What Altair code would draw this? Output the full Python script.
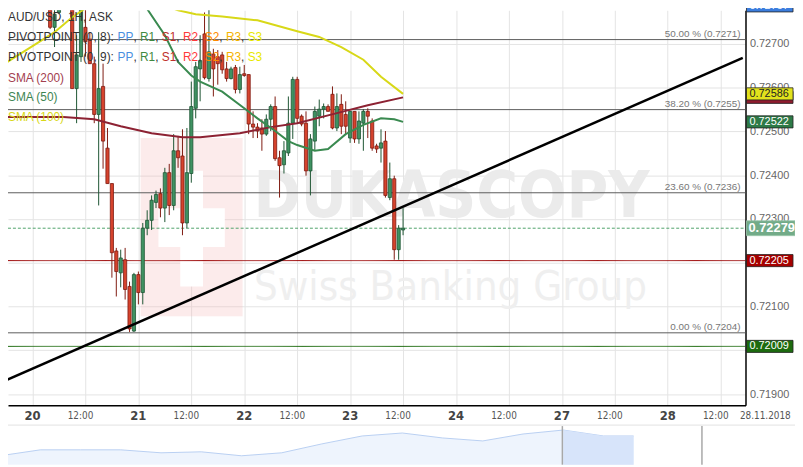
import altair as alt
import pandas as pd

# ---------------- data (hour index: 0 = 20 Nov 00:00) ----------------
first_hour = 4
opens = [0.72840, 0.72738, 0.72772, 0.72806, 0.72829, 0.72852, 0.72598, 0.72671, 0.72738, 0.72711,
         0.72655, 0.72539, 0.72603, 0.72462, 0.72381, 0.72227, 0.72177, 0.72207, 0.72146, 0.72044,
         0.72173, 0.72132, 0.72279, 0.72297, 0.72338, 0.72358, 0.72325, 0.72406, 0.72331, 0.72456,
         0.72444, 0.72291, 0.72404, 0.72553, 0.72643, 0.72723, 0.72621, 0.72677, 0.72671, 0.72675,
         0.72643, 0.72621, 0.72646, 0.72596, 0.72632, 0.72630, 0.72517, 0.72510, 0.72508, 0.72494,
         0.72528, 0.72557, 0.72440, 0.72424, 0.72451, 0.72519, 0.72619, 0.72535, 0.72519, 0.72410,
         0.72478, 0.72535, 0.72551, 0.72557, 0.72585, 0.72508, 0.72562, 0.72539, 0.72485, 0.72546,
         0.72483, 0.72519, 0.72546, 0.72524, 0.72467, 0.72462, 0.72478, 0.72349, 0.72392, 0.72230,
         0.72275]
highs = [0.72852, 0.72784, 0.72818, 0.72840, 0.72875, 0.72863, 0.72720, 0.72795, 0.72795, 0.72727,
         0.72671, 0.72727, 0.72655, 0.72508, 0.72381, 0.72234, 0.72230, 0.72234, 0.72157, 0.72177,
         0.72180, 0.72291, 0.72320, 0.72354, 0.72365, 0.72370, 0.72417, 0.72426, 0.72494, 0.72490,
         0.72505, 0.72508, 0.72614, 0.72659, 0.72720, 0.72772, 0.72779, 0.72689, 0.72686, 0.72682,
         0.72659, 0.72648, 0.72652, 0.72648, 0.72652, 0.72630, 0.72546, 0.72519, 0.72528, 0.72539,
         0.72562, 0.72580, 0.72456, 0.72478, 0.72580, 0.72625, 0.72625, 0.72539, 0.72546, 0.72494,
         0.72557, 0.72573, 0.72564, 0.72562, 0.72603, 0.72587, 0.72585, 0.72569, 0.72546, 0.72546,
         0.72546, 0.72551, 0.72553, 0.72530, 0.72472, 0.72505, 0.72501, 0.72429, 0.72399, 0.72286,
         0.72325]
lows = [0.72734, 0.72693, 0.72768, 0.72788, 0.72806, 0.72598, 0.72519, 0.72659, 0.72671, 0.72655,
        0.72519, 0.72331, 0.72415, 0.72381, 0.72166, 0.72123, 0.72144, 0.72116, 0.72042, 0.72042,
        0.72105, 0.72105, 0.72263, 0.72275, 0.72325, 0.72304, 0.72293, 0.72309, 0.72320, 0.72417,
        0.72263, 0.72279, 0.72383, 0.72530, 0.72569, 0.72619, 0.72614, 0.72580, 0.72607, 0.72632,
        0.72614, 0.72619, 0.72587, 0.72587, 0.72625, 0.72494, 0.72485, 0.72485, 0.72456, 0.72490,
        0.72501, 0.72433, 0.72349, 0.72404, 0.72444, 0.72483, 0.72517, 0.72512, 0.72399, 0.72354,
        0.72456, 0.72512, 0.72530, 0.72546, 0.72505, 0.72501, 0.72494, 0.72494, 0.72474, 0.72474,
        0.72472, 0.72456, 0.72485, 0.72456, 0.72451, 0.72429, 0.72349, 0.72343, 0.72207, 0.72207,
        0.72263]
closes = [0.72738, 0.72768, 0.72806, 0.72829, 0.72863, 0.72598, 0.72675, 0.72788, 0.72705, 0.72655,
          0.72539, 0.72598, 0.72478, 0.72381, 0.72223, 0.72180, 0.72211, 0.72139, 0.72049, 0.72173,
          0.72132, 0.72279, 0.72297, 0.72343, 0.72356, 0.72325, 0.72406, 0.72331, 0.72456, 0.72440,
          0.72291, 0.72406, 0.72557, 0.72648, 0.72662, 0.72623, 0.72682, 0.72643, 0.72655, 0.72641,
          0.72621, 0.72643, 0.72596, 0.72630, 0.72628, 0.72517, 0.72510, 0.72501, 0.72494, 0.72528,
          0.72557, 0.72438, 0.72422, 0.72456, 0.72519, 0.72619, 0.72530, 0.72517, 0.72410, 0.72483,
          0.72546, 0.72551, 0.72557, 0.72546, 0.72508, 0.72557, 0.72512, 0.72512, 0.72546, 0.72483,
          0.72524, 0.72546, 0.72535, 0.72462, 0.72460, 0.72474, 0.72354, 0.72392, 0.72230, 0.72279,
          0.72279]

sma200_t = [-6, 7, 14, 20, 27, 34, 38, 47, 54, 60, 69, 76, 84]
sma200_v = [0.72533, 0.72533, 0.72528, 0.72512, 0.72496, 0.72487, 0.72487, 0.72496, 0.72510,
            0.72519, 0.72542, 0.72560, 0.72578]
sma50_t = [20, 23, 25, 30, 33, 36, 38, 43, 48, 51, 55, 58, 60, 64, 67, 71, 75, 79, 82, 84]
sma50_v = [0.72885, 0.72840, 0.72795, 0.72720, 0.72659, 0.72628, 0.72614, 0.72591, 0.72553, 0.72530,
           0.72501, 0.72478, 0.72469, 0.72456, 0.72460, 0.72494, 0.72515, 0.72530, 0.72528, 0.72522]
sma100_t = [-6, 0, 5, 9, 14, 20, 28, 33, 37, 43, 51, 60, 65, 70, 75, 79, 84]
sma100_v = [0.72657, 0.72695, 0.72727, 0.72761, 0.72795, 0.72822, 0.72795, 0.72777, 0.72768, 0.72763,
            0.72754, 0.72729, 0.72716, 0.72693, 0.72664, 0.72625, 0.72586]

trend_t = [-7, 161]
trend_v = [0.71927, 0.72668]

fib_levels = [0.7271, 0.7255, 0.7236, 0.7204]
fib_pcts = ["50.00 %", "38.20 %", "23.60 %", "0.00 %"]

last_price = 0.72279
support_red = 0.72205
support_green = 0.72009

tag_values = [0.72787, 0.72578, 0.72586, 0.72522, 0.72205, 0.72009]
tag_fills = ["#3b7ddd", "#8e1c2e", "#e2e21c", "#2d7a47", "#a50000", "#1d6b0f"]
tag_text_colors = ["white", "white", "#222222", "white", "white", "white"]

y_ticks = [0.719, 0.720, 0.721, 0.722, 0.723, 0.724, 0.725, 0.726, 0.727]
hidden_y_labels = ["0.72000", "0.72200"]
grid_hours = list(range(0, 157, 12))
day_hours = [0, 24, 48, 72, 96, 120, 144]
day_labels = ["20", "21", "22", "23", "24", "27", "28"]
half_hours = list(range(12, 157, 24))
date_label = "28.11.2018"

nav_idx = [0, 1, 2, 3, 4, 5, 6, 7, 8, 9, 10, 11, 12, 13, 14, 15, 15.75]
nav_vals = [9, 15, 15, 15, 12, 13, 9, 12, 21, 29, 32, 27, 24, 31, 35, 29, 29]
nav_window_start = 14

# ---------------- frames ----------------
n = len(opens)
candles = pd.DataFrame({"t": list(range(first_hour, first_hour + n)), "open": opens,
                        "high": highs, "low": lows, "close": closes})
candles["dir"] = ["up" if c >= o else "down" for o, c in zip(opens, closes)]

FONT = "Liberation Sans, Arial, sans-serif"
NARROW = "Liberation Sans Narrow, Arial Narrow, DejaVu Sans Condensed, sans-serif"

W, H = 745, 399
xs = alt.Scale(domain=[-4.428, 160.5], nice=False, zero=False)
ys = alt.Scale(domain=[0.718744, 0.727769], nice=False, zero=False)
hide_expr = " || ".join([f"datum.label == '{h}'" for h in hidden_y_labels])
x_axis = alt.Axis(values=grid_hours, labels=False, ticks=False, grid=True, gridColor="#e4e4e4",
                  domainColor="#000000", domainWidth=1.5, title=None, zindex=0)
y_axis = alt.Axis(orient="right", values=y_ticks, format=".5f", ticks=False, grid=True,
                  gridColor="#e4e4e4", domainColor="#000000", domainWidth=1.5, labelColor="#666666",
                  labelFontSize=11, labelFont=FONT, labelPadding=4, title=None, zindex=0,
                  labelExpr=f"({hide_expr}) ? '' : datum.label")


def X(f):
    return alt.X(f, type="quantitative", scale=xs, axis=x_axis)


def Y(f):
    return alt.Y(f, type="quantitative", scale=ys, axis=y_axis)


one = pd.DataFrame({"_": [0]})
layers = []

# watermark logo (decoration)
layers.append(alt.Chart(one).mark_rect(color="#f3b8b8", opacity=0.28).encode(
    x=alt.value(134), x2=alt.value(237), y=alt.value(129), y2=alt.value(309)))
layers.append(alt.Chart(one).mark_rect(color="white").encode(
    x=alt.value(152), x2=alt.value(219), y=alt.value(200), y2=alt.value(239)))
layers.append(alt.Chart(one).mark_rect(color="white").encode(
    x=alt.value(174), x2=alt.value(197), y=alt.value(162), y2=alt.value(279)))
layers.append(alt.Chart(one).mark_text(text="DUKASCOPY", font=NARROW, fontSize=64, fontWeight="bold",
                                       color="#ebebeb", align="center", baseline="middle").encode(
    x=alt.value(448), y=alt.value(190)))
layers.append(alt.Chart(one).mark_text(text="Swiss Banking Group", font=NARROW, fontSize=42,
                                       color="#efefef", align="center", baseline="middle").encode(
    x=alt.value(447), y=alt.value(280)))

# fibonacci levels
fib = pd.DataFrame({"price": fib_levels,
                    "label": [f"{p} ({v:.4f})" for p, v in zip(fib_pcts, fib_levels)]})
layers.append(alt.Chart(fib).mark_rule(color="#5c5c5c", strokeWidth=1).encode(
    y=Y("price"), x=alt.value(0), x2=alt.value(W)))
layers.append(alt.Chart(fib).mark_text(align="right", baseline="middle", dy=-6, fontSize=10,
                                       color="#777777", font=FONT).encode(
    y=Y("price"), x=alt.value(740), text="label:N"))

# horizontal levels
for val, col, dash in [(support_red, "#9a0000", [1, 0]), (support_green, "#1d6b0f", [1, 0]),
                       (last_price, "#4fa36a", [3, 2])]:
    layers.append(alt.Chart(pd.DataFrame({"price": [val]})).mark_rule(
        color=col, strokeWidth=1, strokeDash=dash).encode(y=Y("price"), x=alt.value(0), x2=alt.value(W)))

# candles
dark = alt.Scale(domain=["up", "down"], range=["#1d5533", "#7e1a10"])
bright = alt.Scale(domain=["up", "down"], range=["#3f9262", "#d6432d"])
layers.append(alt.Chart(candles).mark_rule(strokeWidth=1, clip=True).encode(
    x=X("t"), y=Y("low"), y2=alt.Y2("high"), stroke=alt.Stroke("dir:N", scale=dark, legend=None)))
layers.append(alt.Chart(candles).mark_bar(size=3.2, strokeWidth=0.8, clip=True).encode(
    x=X("t"), y=Y("open"), y2=alt.Y2("close"),
    fill=alt.Fill("dir:N", scale=bright, legend=None),
    stroke=alt.Stroke("dir:N", scale=dark, legend=None)))

# moving averages
for ts, vs, col in [(sma200_t, sma200_v, "#8d2233"), (sma50_t, sma50_v, "#3a8a50"),
                    (sma100_t, sma100_v, "#d8d818")]:
    layers.append(alt.Chart(pd.DataFrame({"t": ts, "v": vs})).mark_line(
        color=col, strokeWidth=2, clip=True).encode(x=X("t"), y=Y("v")))

# trend line
layers.append(alt.Chart(pd.DataFrame({"t": trend_t, "v": trend_v})).mark_line(
    color="#000000", strokeWidth=2.5, clip=True).encode(x=X("t"), y=Y("v")))

# legend text (top-left)
AW = {"P": .667, "I": .278, "V": .667, "O": .778, "T": .611, "N": .722, " ": .278, "(": .333,
      ")": .333, ",": .278, ":": .278, "R": .722, "S": .667}


def tw(s, size=12):
    return sum(AW.get(c, .556) for c in s) * size


layers.append(alt.Chart(one).mark_text(text="AUD/USD, 1H, ASK", fontSize=12, color="#333333",
                                       align="left", baseline="middle", font=FONT).encode(
    x=alt.value(0), y=alt.value(7)))
piv_cols = ["#4a8fe0", "#3f8a3f", "#c0302a", "#ff3a3a", "#ff8a00", "#f5b400", "#e8e800"]
piv_names = ["PP", "R1", "S1", "R2", "S2", "R3", "S3"]
for head, yy in [("PIVOTPOINT (0, 8): ", 27), ("PIVOTPOINT (0, 9): ", 47)]:
    pieces = [(head, "#333333")]
    for k, (nm, cc) in enumerate(zip(piv_names, piv_cols)):
        pieces.append((nm, cc))
        if k < len(piv_names) - 1:
            pieces.append((", ", "#333333"))
    xx = 0.0
    for txt, cc in pieces:
        layers.append(alt.Chart(one).mark_text(text=txt, fontSize=12, color=cc, align="left",
                                               baseline="middle", font=FONT).encode(
            x=alt.value(xx), y=alt.value(yy)))
        xx += tw(txt)
for txt, cc, yy in [("SMA (200)", "#a3404f", 68), ("SMA (50)", "#3d8552", 88), ("SMA (100)", "#d8d818", 108)]:
    layers.append(alt.Chart(one).mark_text(text=txt, fontSize=12, color=cc, align="left",
                                           baseline="middle", font=FONT).encode(
        x=alt.value(0), y=alt.value(yy)))

# price tags on the axis
half = 0.000138
for val, fc, tc in zip(tag_values, tag_fills, tag_text_colors):
    d = pd.DataFrame({"price": [val], "top": [val + half], "bot": [val - half], "label": [f"{val:.5f}"]})
    layers.append(alt.Chart(d).mark_rect(fill=fc, stroke="#222222", strokeWidth=0.8).encode(
        x=alt.value(746), x2=alt.value(793), y=Y("top"), y2=alt.Y2("bot")))
    layers.append(alt.Chart(d).mark_text(align="left", baseline="middle", fontSize=11, color=tc,
                                         font=FONT).encode(
        x=alt.value(749), y=Y("price"), text="label:N"))
bigh = 0.00017
d = pd.DataFrame({"price": [last_price], "top": [last_price + bigh], "bot": [last_price - bigh],
                  "label": [f"{last_price:.5f}"]})
layers.append(alt.Chart(d).mark_rect(fill="#72ab88", stroke="#9cc7ab", strokeWidth=0.8).encode(
    x=alt.value(746), x2=alt.value(795), y=Y("top"), y2=alt.Y2("bot")))
layers.append(alt.Chart(d).mark_text(align="left", baseline="middle", fontSize=13, fontWeight="bold",
                                     color="white", font=FONT).encode(
    x=alt.value(748), y=Y("price"), text="label:N"))

# x labels
layers.append(alt.Chart(pd.DataFrame({"t": day_hours, "label": day_labels})).mark_text(
    fontSize=13, color="#444444", font=NARROW, fontWeight="bold", baseline="middle").encode(
    x=X("t"), y=alt.value(410), text="label:N"))
layers.append(alt.Chart(pd.DataFrame({"t": half_hours})).mark_text(
    text="12:00", fontSize=10, color="#555555", font=NARROW, baseline="middle", dx=-5).encode(
    x=X("t"), y=alt.value(410)))
layers.append(alt.Chart(one).mark_text(text=date_label, fontSize=10, color="#555555", font=NARROW,
                                       baseline="middle").encode(x=alt.value(765), y=alt.value(410)))

main = alt.layer(*layers)

# navigator
nav = pd.DataFrame({"i": nav_idx, "v": nav_vals})
nx = alt.Scale(domain=[0, 15.75], range=[-8, 632], nice=False, zero=False)
ny = alt.Scale(domain=[0, 40], range=[459, 419], nice=False)
nav_layers = [
    alt.Chart(one).mark_rule(color="#e2e2e2", strokeWidth=1).encode(
        x=alt.value(0), x2=alt.value(795), y=alt.value(419)),
    alt.Chart(nav).mark_area(color="#e7effc", line={"color": "#b9cff2", "strokeWidth": 1}).encode(
        x=alt.X("i:Q", scale=nx, axis=None), y=alt.Y("v:Q", scale=ny, axis=None)),
    alt.Chart(nav[nav["i"] >= nav_window_start]).mark_area(color="#d7e4fa").encode(
        x=alt.X("i:Q", scale=nx, axis=None), y=alt.Y("v:Q", scale=ny, axis=None)),
    alt.Chart(one).mark_rule(color="#a8a8a8", strokeWidth=1.5).encode(
        x=alt.value(560), y=alt.value(420), y2=alt.value(459)),
    alt.Chart(one).mark_rule(color="#a8a8a8", strokeWidth=1.5).encode(
        x=alt.value(701), y=alt.value(420), y2=alt.value(459)),
]
navc = alt.layer(*nav_layers)

chart = alt.layer(main, navc).resolve_scale(x="independent", y="independent").properties(
    width=W, height=H, autosize=alt.AutoSizeParams(type="none"),
    padding={"left": 0, "top": 0, "right": 50, "bottom": 60},
).configure(font=FONT).configure_view(strokeWidth=0)

chart.save("out.html", embed_options={"renderer": "svg", "actions": False})
